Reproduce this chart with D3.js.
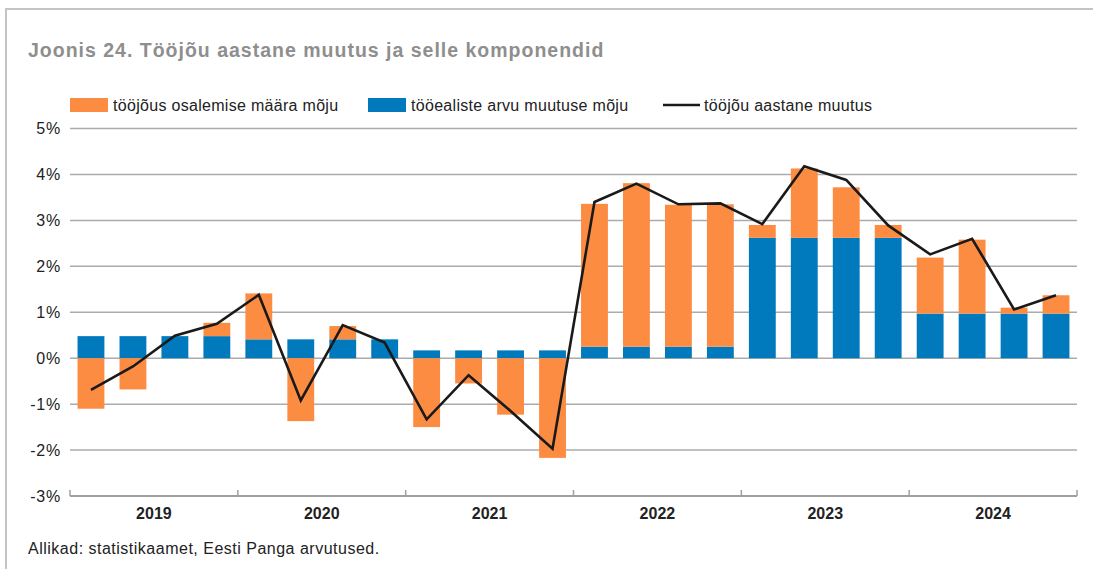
<!DOCTYPE html>
<html>
<head>
<meta charset="utf-8">
<script src="https://cdn.jsdelivr.net/npm/d3@7"></script>
<style>
  body { margin: 0; background: #fff; }
  svg { display: block; font-family: "Liberation Sans", Arial, sans-serif; }
</style>
</head>
<body>
<svg id="chart" width="1093" height="569"></svg>
<script>
// quarters 2019 Q1 .. 2024 Q4
var years = ['2019', '2020', '2021', '2022', '2023', '2024'];
var quarters = [];
for (var yr of years) {
  for (var q = 1; q <= 4; q++) quarters.push(yr + 'Q' + q);
}

// tööealiste arvu muutuse mõju (blue)
var popEffect = [0.48, 0.48, 0.48, 0.48,
                 0.41, 0.41, 0.41, 0.41,
                 0.17, 0.17, 0.17, 0.17,
                 0.25, 0.25, 0.25, 0.25,
                 2.62, 2.62, 2.62, 2.62,
                 0.97, 0.97, 0.97, 0.97];
// tööjõus osalemise määra mõju (orange)
var rateEffect = [-1.1, -0.68, 0.0, 0.29,
                  1.0, -1.37, 0.29, 0.0,
                  -1.5, -0.55, -1.23, -2.17,
                  3.11, 3.56, 3.09, 3.1,
                  0.28, 1.51, 1.1, 0.28,
                  1.22, 1.61, 0.13, 0.4];
// tööjõu aastane muutus (line)
var totalChange = [-0.69, -0.18, 0.49, 0.75,
                   1.38, -0.92, 0.72, 0.34,
                   -1.33, -0.37, -1.15, -1.97,
                   3.4, 3.8, 3.35, 3.37,
                   2.92, 4.18, 3.88, 2.89,
                   2.26, 2.6, 1.06, 1.37];
var yTicks = [-3, -2, -1, 0, 1, 2, 3, 4, 5];

var legendItems = [
  {label: 'tööjõus osalemise määra mõju', type: 'rect', color: '#fd8c43'},
  {label: 'tööealiste arvu muutuse mõju', type: 'rect', color: '#0079bd'},
  {label: 'tööjõu aastane muutus', type: 'line', color: '#1a1a1a'}
];

var svg = d3.select('#chart');
var plotLeft = 70, plotRight = 1077, plotTop = 128.5, plotBottom = 496;

// frame
svg.append('path')
  .attr('d', 'M6,569 V9 H1093')
  .attr('fill', 'none')
  .attr('stroke', '#c4c4c4')
  .attr('stroke-width', 2);

// title
svg.append('text')
  .attr('x', 28).attr('y', 57)
  .attr('font-size', 19.5)
  .attr('font-weight', 'bold')
  .attr('letter-spacing', 1)
  .attr('fill', '#8e8e8e')
  .text('Joonis 24. Tööjõu aastane muutus ja selle komponendid');

var x = d3.scaleBand().domain(quarters).range([plotLeft, plotRight])
  .paddingInner(0.36).paddingOuter(0.18);
var y = d3.scaleLinear().domain([-3, 5]).range([plotBottom, plotTop]);

// grid
svg.append('g').selectAll('line')
  .data(yTicks.filter(function(d) { return d > -3; }))
  .join('line')
  .attr('x1', plotLeft).attr('x2', plotRight)
  .attr('y1', function(d) { return y(d); })
  .attr('y2', function(d) { return y(d); })
  .attr('stroke', '#ababab')
  .attr('stroke-width', 1.5);

// y labels
svg.append('g').selectAll('text')
  .data(yTicks)
  .join('text')
  .attr('x', 61)
  .attr('y', function(d) { return y(d); })
  .attr('dy', '0.36em')
  .attr('text-anchor', 'end')
  .attr('font-size', 16)
  .attr('letter-spacing', 0.8)
  .attr('fill', '#222')
  .text(function(d) { return d + '%'; });

// stacked bars
var rows = quarters.map(function(q, i) {
  return {q: q, pop: popEffect[i], rate: rateEffect[i]};
});
var stack = d3.stack().keys(['pop', 'rate']).offset(d3.stackOffsetDiverging);
var series = stack(rows);
var colors = {pop: '#0079bd', rate: '#fd8c43'};

svg.append('g').selectAll('g')
  .data(series)
  .join('g')
  .attr('fill', function(s) { return colors[s.key]; })
  .selectAll('rect')
  .data(function(s) { return s; })
  .join('rect')
  .attr('x', function(d) { return x(d.data.q); })
  .attr('width', x.bandwidth())
  .attr('y', function(d) { return y(Math.max(d[0], d[1])); })
  .attr('height', function(d) { return Math.abs(y(d[0]) - y(d[1])); });

// line
var line = d3.line()
  .x(function(d, i) { return x(quarters[i]) + x.bandwidth() / 2; })
  .y(function(d) { return y(d); });
svg.append('path')
  .datum(totalChange)
  .attr('d', line)
  .attr('fill', 'none')
  .attr('stroke', '#1a1a1a')
  .attr('stroke-width', 2.6)
  .attr('stroke-linejoin', 'miter');

// x axis
var yearWidth = (plotRight - plotLeft) / years.length;
var axis = svg.append('g');
axis.append('line')
  .attr('x1', plotLeft).attr('x2', plotRight)
  .attr('y1', plotBottom).attr('y2', plotBottom)
  .attr('stroke', '#a0a0a0').attr('stroke-width', 2);
axis.selectAll('line.tick')
  .data(d3.range(years.length + 1))
  .join('line')
  .attr('class', 'tick')
  .attr('x1', function(i) { return plotLeft + i * yearWidth; })
  .attr('x2', function(i) { return plotLeft + i * yearWidth; })
  .attr('y1', plotBottom).attr('y2', plotBottom - 6)
  .attr('stroke', '#a0a0a0').attr('stroke-width', 1.5);
axis.selectAll('text')
  .data(years)
  .join('text')
  .attr('x', function(d, i) { return plotLeft + (i + 0.5) * yearWidth; })
  .attr('y', 519)
  .attr('text-anchor', 'middle')
  .attr('font-size', 16)
  .attr('font-weight', 'bold')
  .attr('fill', '#222')
  .text(function(d) { return d; });

// legend
var legendX = [70, 368, 663];
var lg = svg.append('g').selectAll('g')
  .data(legendItems)
  .join('g')
  .attr('transform', function(d, i) { return 'translate(' + legendX[i] + ',105)'; });
lg.filter(function(d) { return d.type == 'rect'; })
  .append('rect')
  .attr('x', 0).attr('y', -7).attr('width', 38).attr('height', 14)
  .attr('fill', function(d) { return d.color; });
lg.filter(function(d) { return d.type == 'line'; })
  .append('line')
  .attr('x1', 0).attr('x2', 37).attr('y1', 0).attr('y2', 0)
  .attr('stroke', function(d) { return d.color; })
  .attr('stroke-width', 2.6);
lg.append('text')
  .attr('x', function(d) { return d.type == 'rect' ? 43 : 41; })
  .attr('y', 0).attr('dy', '0.35em')
  .attr('font-size', 16)
  .attr('letter-spacing', 0.3)
  .attr('fill', '#222')
  .text(function(d) { return d.label; });

// source
svg.append('text')
  .attr('x', 28).attr('y', 554)
  .attr('font-size', 16)
  .attr('letter-spacing', 0.5)
  .attr('fill', '#222')
  .text('Allikad: statistikaamet, Eesti Panga arvutused.');
</script>
</body>
</html>
